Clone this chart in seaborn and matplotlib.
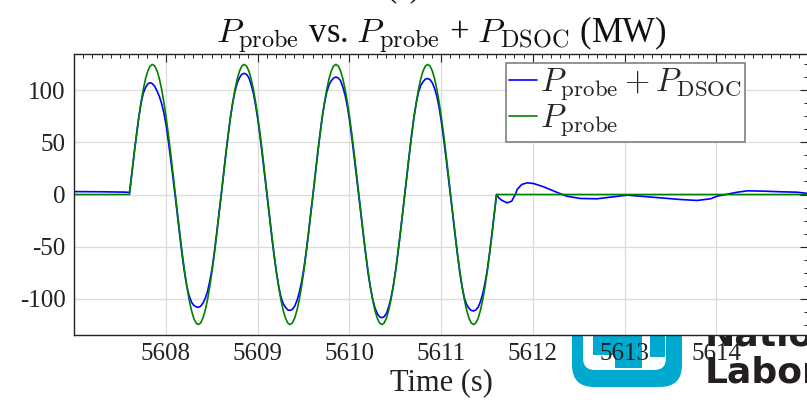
import numpy as np
import pandas as pd
import matplotlib
matplotlib.use("Agg")
import matplotlib.pyplot as plt
import seaborn as sns
from matplotlib.patches import FancyBboxPatch, Rectangle
from matplotlib.ticker import MultipleLocator, FixedLocator
from matplotlib.transforms import IdentityTransform

# ---------------- data ----------------
# flat part before the probe
t_pre_total = [5607.0, 5607.3, 5607.55]
p_pre_total = [2.8, 2.6, 2.3]

# probe window, sampled every 0.025 s starting at 5607.605 s
t_osc = np.round(5607.605 + 0.025 * np.arange(161), 4)

p_probe_osc = [
    0, 19.5, 38.5, 56.5, 73.2, 88.0, 100.7, 110.9, 118.4, 123.0, 124.5, 123.0, 118.4, 110.9, 100.7, 88.0, 73.2, 56.5, 38.5, 19.5,
    0, -19.5, -38.5, -56.5, -73.2, -88.0, -100.7, -110.9, -118.4, -123.0, -124.5, -123.0, -118.4, -110.9, -100.7, -88.0, -73.2, -56.5, -38.5, -19.5,
    0, 19.5, 38.5, 56.5, 73.2, 88.0, 100.7, 110.9, 118.4, 123.0, 124.5, 123.0, 118.4, 110.9, 100.7, 88.0, 73.2, 56.5, 38.5, 19.5,
    0, -19.5, -38.5, -56.5, -73.2, -88.0, -100.7, -110.9, -118.4, -123.0, -124.5, -123.0, -118.4, -110.9, -100.7, -88.0, -73.2, -56.5, -38.5, -19.5,
    0, 19.5, 38.5, 56.5, 73.2, 88.0, 100.7, 110.9, 118.4, 123.0, 124.5, 123.0, 118.4, 110.9, 100.7, 88.0, 73.2, 56.5, 38.5, 19.5,
    0, -19.5, -38.5, -56.5, -73.2, -88.0, -100.7, -110.9, -118.4, -123.0, -124.5, -123.0, -118.4, -110.9, -100.7, -88.0, -73.2, -56.5, -38.5, -19.5,
    0, 19.5, 38.5, 56.5, 73.2, 88.0, 100.7, 110.9, 118.4, 123.0, 124.5, 123.0, 118.4, 110.9, 100.7, 88.0, 73.2, 56.5, 38.5, 19.5,
    0, -19.5, -38.5, -56.5, -73.2, -88.0, -100.7, -110.9, -118.4, -123.0, -124.5, -123.0, -118.4, -110.9, -100.7, -88.0, -73.2, -56.5, -38.5, -19.5,
    0,
]

p_total_osc = [
    2, 20, 39, 56, 73, 87, 97, 102.5, 106, 107, 106, 103.5, 99, 94, 87, 78, 66, 50, 33, 15,
    -3, -22, -41, -59, -75, -88, -97, -103, -106, -107.5, -108, -107, -104, -99.5, -93, -83, -71, -55, -37, -18,
    0, 19.5, 39, 57, 74, 88, 99, 107, 112, 115, 116, 115, 112, 105.5, 97, 85, 71, 54, 36, 17,
    -2, -21, -40, -58, -74, -87.5, -98, -104.5, -108, -110.5, -111, -110, -107, -101.5, -94, -84, -71, -55, -37, -18,
    0, 19.5, 39, 57, 74, 87.5, 98, 105, 109, 111.5, 112.5, 111.5, 109, 103, 95, 84, 70, 53, 35, 16.5,
    -2, -21, -40, -58, -75, -89, -100, -108.5, -114, -117, -118, -117, -114, -107.5, -99, -87.5, -73, -56, -38, -19,
    0, 19.5, 39, 57, 74, 87.5, 98, 104.5, 108, 110.5, 111, 110, 107, 101.5, 94, 83, 69, 52.5, 35, 16.5,
    -2, -21, -40, -58, -75, -88.5, -99, -105.5, -109, -111, -111.5, -110.5, -108, -102.5, -95, -84.5, -72, -55.5, -38, -19,
    0,
]

# after the probe
t_post_total = [5611.63, 5611.66, 5611.72, 5611.77, 5611.81, 5611.83, 5611.88,
                5611.94, 5612.01, 5612.12, 5612.26, 5612.37, 5612.52, 5612.70,
                5612.88, 5613.03, 5613.17, 5613.39, 5613.61, 5613.79, 5613.94,
                5614.01, 5614.12, 5614.23, 5614.34, 5614.52, 5614.70, 5614.88,
                5615.0]
p_post_total = [-3.2, -5.4, -8.0, -6.4, 0.0, 4.8, 9.6, 11.2, 10.5, 7.3, 2.2,
                -1.6, -3.8, -4.1, -2.2, -0.6, -1.6, -3.2, -4.8, -5.7, -4.1,
                -1.6, 0.3, 2.2, 3.5, 3.2, 2.6, 2.2, 1.0]

t_probe_edges = [5607.0, 5615.0]
p_probe_edges = [0.0, 0.0]

x_ticks = [5608, 5609, 5610, 5611, 5612, 5613, 5614]
y_ticks = [-100, -50, 0, 50, 100]

label_total = r"$P_\mathrm{probe} + P_\mathrm{DSOC}$"
label_probe = r"$P_\mathrm{probe}$"
title_text = r"$P_\mathrm{probe}$ vs. $P_\mathrm{probe}$ + $P_\mathrm{DSOC}$ (MW)"

df_total = pd.DataFrame({
    "t": list(t_pre_total) + list(t_osc) + list(t_post_total),
    "p": list(p_pre_total) + list(p_total_osc) + list(p_post_total),
})
df_probe = pd.DataFrame({
    "t": [t_probe_edges[0]] + list(t_osc) + [t_probe_edges[1]],
    "p": [p_probe_edges[0]] + list(p_probe_osc) + [p_probe_edges[1]],
})

# ---------------- style ----------------
sns.set_style("white")
plt.rcParams["font.family"] = ["Liberation Serif", "DejaVu Serif"]
plt.rcParams["mathtext.fontset"] = "cm"
plt.rcParams["axes.unicode_minus"] = False

W, H = 807, 403
fig = plt.figure(figsize=(W / 100, H / 100), dpi=100)
ax = fig.add_axes([74 / W, 68 / H, 734 / W, 281 / H])
ax.set_zorder(0)

# ---------------- background logo (behind the axes) ----------------
cyan = "#00a9d0"
idt = IdentityTransform()
fig.add_artist(FancyBboxPatch((572, 16), 110, 120, boxstyle="round,pad=0,rounding_size=22",
                              fc=cyan, ec="none", transform=idt, zorder=-2))
fig.add_artist(FancyBboxPatch((583, 33), 83, 110, boxstyle="round,pad=0,rounding_size=12",
                              fc="white", ec="none", transform=idt, zorder=-1.9))
for (x0, y0, w, h) in [(593, 48, 27, 25), (615, 35, 27, 38), (650, 46, 15, 27)]:
    fig.add_artist(Rectangle((x0, y0), w, h, fc=cyan, ec="none", transform=idt, zorder=-1.8))
fig.text(705 / W, 58 / H, "National", transform=fig.transFigure, ha="left", va="baseline",
         fontsize=26, fontweight="bold", family=["Liberation Sans Narrow", "DejaVu Sans"],
         color="#231f20", zorder=-1.5)
fig.text(705 / W, 20 / H, "Laboratory", transform=fig.transFigure, ha="left", va="baseline",
         fontsize=26, fontweight="bold", family=["Liberation Sans Narrow", "DejaVu Sans"],
         color="#231f20", zorder=-1.5)

# ---------------- lines ----------------
sns.lineplot(data=df_total, x="t", y="p", ax=ax, color="#0000ff", lw=1.2,
             label=label_total, estimator=None)
sns.lineplot(data=df_probe, x="t", y="p", ax=ax, color="#008000", lw=1.2,
             label=label_probe, estimator=None)

ax.set_facecolor("white")
ax.set_xlim(5607.0, 5615.0)
ax.set_ylim(-134.5, 134.5)
ax.xaxis.set_major_locator(FixedLocator(x_ticks))
ax.yaxis.set_major_locator(FixedLocator(y_ticks))
ax.xaxis.set_minor_locator(MultipleLocator(0.1))
ax.yaxis.set_minor_locator(MultipleLocator(12.5))
ax.ticklabel_format(axis="x", useOffset=False, style="plain")
ax.grid(True, which="major", color="#dcdcdc", lw=0.9)
ax.set_axisbelow(True)

for s in ax.spines.values():
    s.set_color("#222222")
    s.set_linewidth(1.0)

ax.tick_params(which="both", direction="in", top=True, right=True, colors="#222222",
               labelcolor="#222222")
ax.tick_params(which="major", length=5.5, width=0.8, labelsize=18)
ax.tick_params(which="minor", length=3, width=0.7)
ax.tick_params(axis="x", which="major", pad=6)
ax.tick_params(axis="y", which="major", pad=6)

ax.set_xlabel("Time (s)", fontsize=22, labelpad=2, color="#222222")
ax.set_ylabel("")
ax.set_title(title_text, fontsize=25, pad=8, color="#111111")
fig.text(0.5, 407 / H, "(a)", ha="center", va="baseline", fontsize=22, color="#111111")

leg = ax.legend(loc="upper right", bbox_to_anchor=(0.914, 0.968), borderaxespad=0,
                fancybox=False, edgecolor="#808080", framealpha=1, fontsize=23.5,
                handlelength=0.85, handletextpad=0.1, borderpad=0.1,
                labelspacing=0.0)
leg.get_frame().set_linewidth(1.2)

fig.savefig("out.png", dpi=100)
